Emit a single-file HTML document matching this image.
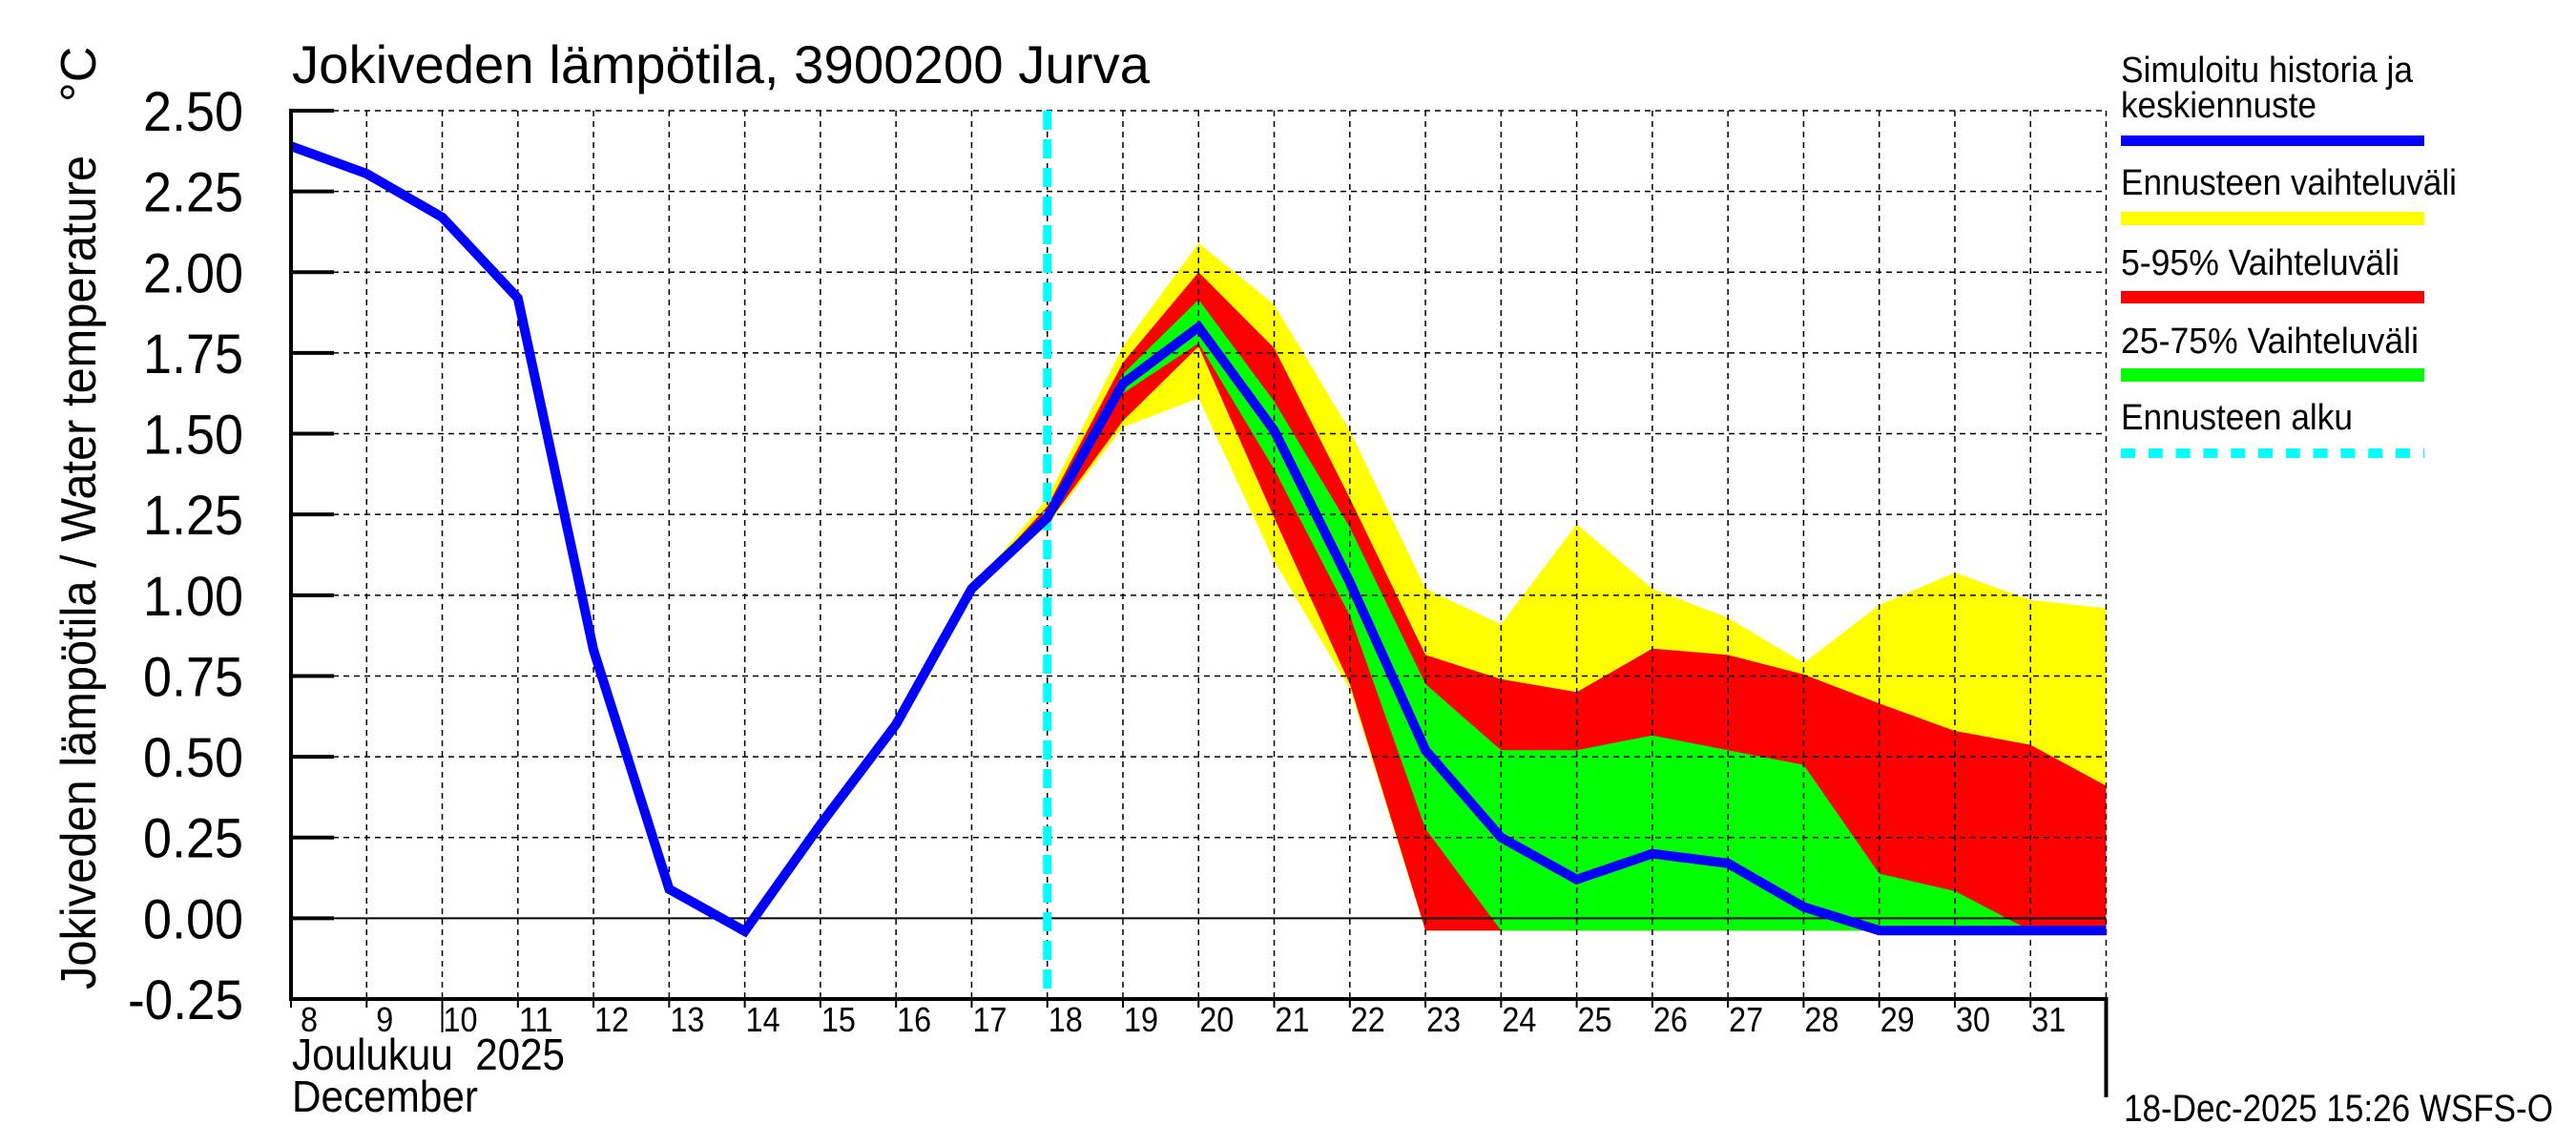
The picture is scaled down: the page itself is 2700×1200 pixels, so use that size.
<!DOCTYPE html>
<html><head><meta charset="utf-8"><style>
html,body{margin:0;padding:0;background:#fff;}
svg{display:block;}
text{font-family:"Liberation Sans",sans-serif;fill:#000;}
</style></head><body>
<svg id="chart" width="2700" height="1200" viewBox="0 0 2700 1200" xmlns="http://www.w3.org/2000/svg">
<rect x="0" y="0" width="2700" height="1200" fill="#fff"/>
<g id="bands"></g>
<g id="grid"></g>
<g id="lines"></g>
<g id="axes"></g>
<text x="306" y="87" font-size="56" textLength="899" lengthAdjust="spacingAndGlyphs">Jokiveden lämpötila, 3900200 Jurva</text>
<text transform="translate(100,1037) rotate(-90)" font-size="52" textLength="874" lengthAdjust="spacingAndGlyphs">Jokiveden lämpötila / Water temperature</text>
<text transform="translate(100,107) rotate(-90)" font-size="52">°C</text>
<text x="306" y="1121" font-size="46" textLength="286" lengthAdjust="spacingAndGlyphs" xml:space="preserve">Joulukuu  2025</text>
<text x="306" y="1165" font-size="46" textLength="195" lengthAdjust="spacingAndGlyphs">December</text>
<text x="2226" y="1175" font-size="40" textLength="450" lengthAdjust="spacingAndGlyphs">18-Dec-2025 15:26 WSFS-O</text>
<g>
<text x="2223" y="86" font-size="38" textLength="306" lengthAdjust="spacingAndGlyphs">Simuloitu historia ja</text>
<text x="2223" y="123" font-size="38" textLength="205" lengthAdjust="spacingAndGlyphs">keskiennuste</text>
<rect x="2223" y="142" width="318" height="11" fill="#0000ff"/>
<text x="2223" y="204" font-size="38" textLength="352" lengthAdjust="spacingAndGlyphs">Ennusteen vaihteluväli</text>
<rect x="2223" y="222" width="318" height="14" fill="#ffff00"/>
<text x="2223" y="288" font-size="38" textLength="292" lengthAdjust="spacingAndGlyphs">5-95% Vaihteluväli</text>
<rect x="2223" y="305" width="318" height="13" fill="#ff0000"/>
<text x="2223" y="370" font-size="38" textLength="312" lengthAdjust="spacingAndGlyphs">25-75% Vaihteluväli</text>
<rect x="2223" y="386" width="318" height="14" fill="#00ff00"/>
<text x="2223" y="450" font-size="38" textLength="243" lengthAdjust="spacingAndGlyphs">Ennusteen alku</text>
<line x1="2223" y1="475" x2="2541" y2="475" stroke="#00ffff" stroke-width="10" stroke-dasharray="15,13.8"/>
</g>
</svg>
<script>
// data: day offsets from Dec 8 00:00
const histDays = [0,1,2,3,4,5,6,7,8,9,10,11,12,13,14,15,16,17,18,19,20,21,22,23,24];
const medianVals = [2.39,2.305,2.17,1.92,0.83,0.09,-0.04,0.29,0.60,1.02,1.24,1.655,1.83,1.51,1.04,0.52,0.25,0.12,0.20,0.17,0.035,-0.038,-0.038,-0.038,-0.038];
const bandDays = [9,10,11,12,13,14,15,16,17,18,19,20,21,22,23,24];
const yellowHi = [1.02,1.30,1.77,2.09,1.90,1.51,1.02,0.91,1.22,1.02,0.93,0.79,0.97,1.07,0.985,0.96];
const yellowLo = [1.02,1.215,1.52,1.61,1.105,0.71,-0.038,-0.038,-0.038,-0.038,-0.038,-0.038,-0.038,-0.038,-0.038,-0.038];
const redHi = [1.02,1.275,1.72,2.00,1.765,1.30,0.815,0.74,0.70,0.835,0.815,0.755,0.665,0.58,0.537,0.41];
const redLo = [1.02,1.22,1.54,1.77,1.24,0.725,-0.038,-0.038,-0.038,-0.038,-0.038,-0.038,-0.038,-0.038,-0.038,-0.038];
const greenHi = [1.02,1.26,1.685,1.915,1.60,1.21,0.725,0.52,0.52,0.566,0.52,0.475,0.138,0.084,-0.038,-0.038];
const greenLo = [1.02,1.23,1.625,1.78,1.39,0.937,0.277,-0.038,-0.038,-0.038,-0.038,-0.038,-0.038,-0.038,-0.038,-0.038];
const yTicks = [-0.25,0,0.25,0.5,0.75,1.0,1.25,1.5,1.75,2.0,2.25,2.5];
const yTickLabels = ["-0.25","0.00","0.25","0.50","0.75","1.00","1.25","1.50","1.75","2.00","2.25","2.50"];
const dayLabels = ["8","9","10","11","12","13","14","15","16","17","18","19","20","21","22","23","24","25","26","27","28","29","30","31"];
const forecastStart = [10];

const X0=305, X1=2207.5, Y0=1047, Y1=116;
const xs = d => X0 + d*(X1-X0)/24;
const ys = v => Y0 - (v+0.25)*(Y0-Y1)/2.75;
const NS="http://www.w3.org/2000/svg";
function mk(tag, parent, attrs){const e=document.createElementNS(NS,tag);for(const k in attrs)e.setAttribute(k,attrs[k]);parent.appendChild(e);return e;}
const bands=document.getElementById('bands'), grid=document.getElementById('grid'), lines=document.getElementById('lines'), axes=document.getElementById('axes');

function band(hi, lo, color, name){
  let pts=[];
  for(let i=0;i<bandDays.length;i++) pts.push(xs(bandDays[i]).toFixed(1)+','+ys(hi[i]).toFixed(1));
  for(let i=bandDays.length-1;i>=0;i--) pts.push(xs(bandDays[i]).toFixed(1)+','+ys(lo[i]).toFixed(1));
  const p=mk('polygon',bands,{points:pts.join(' '),fill:color});
  
  
}
band(yellowHi,yellowLo,'#ffff00','band-forecast-range');
band(redHi,redLo,'#ff0000','band-5-95');
band(greenHi,greenLo,'#00ff00','band-25-75');

for(let i=0;i<yTicks.length;i++){
  const v=yTicks[i], y=ys(v);
  if(v===-0.25) continue;
  const l=mk('line',grid,{x1:X0,x2:X1,y1:y,y2:y,stroke:'#000','stroke-width':v===0?2:1.5,'stroke-dasharray':v===0?'none':'6,5'});
  
  
}
for(let d=1;d<=24;d++){
  const x=xs(d);
  const l=mk('line',grid,{x1:x,x2:x,y1:Y1,y2:Y0,stroke:'#000','stroke-width':1.5,'stroke-dasharray':'6,5'});
  
  
}

const fx=xs(forecastStart[0]);
const fl=mk('line',lines,{x1:fx,x2:fx,y1:Y1,y2:Y0,stroke:'#00ffff','stroke-width':9,'stroke-dasharray':'20,10'});



const mpts=histDays.map((d,i)=>xs(d).toFixed(1)+','+ys(medianVals[i]).toFixed(1)).join(' ');
const ml=mk('polyline',lines,{points:mpts,fill:'none',stroke:'#0000ff','stroke-width':10,'stroke-linejoin':'miter'});



const ax=mk('path',axes,{d:`M${X0},${Y1-2} V${Y0} H${X1} V1150`,fill:'none',stroke:'#000','stroke-width':4});


for(let i=0;i<yTicks.length;i++){
  const y=ys(yTicks[i]);
  const t=mk('line',axes,{x1:X0,x2:X0+45,y1:y,y2:y,stroke:'#000','stroke-width':4});
  
  
  const lbl=yTickLabels[i];
  const tl=lbl.length===5?121:105;
  const tx=mk('text',axes,{x:255-tl,y:y+21,'font-size':58,textLength:tl,lengthAdjust:'spacingAndGlyphs'});
  tx.textContent=lbl;
  
  
}
for(let i=0;i<dayLabels.length;i++){
  const x=xs(i);
  const t=mk('line',axes,{x1:x,x2:x,y1:Y0,y2:i===2?1082:1056,stroke:'#000','stroke-width':2});
  
  
  const lbl=dayLabels[i];
  const tl=18*lbl.length;
  const tx=mk('text',axes,{x:x+19-tl/2,y:1081,'font-size':36,textLength:tl,lengthAdjust:'spacingAndGlyphs'});
  tx.textContent=lbl;
  
  
}
</script>
</body></html>
